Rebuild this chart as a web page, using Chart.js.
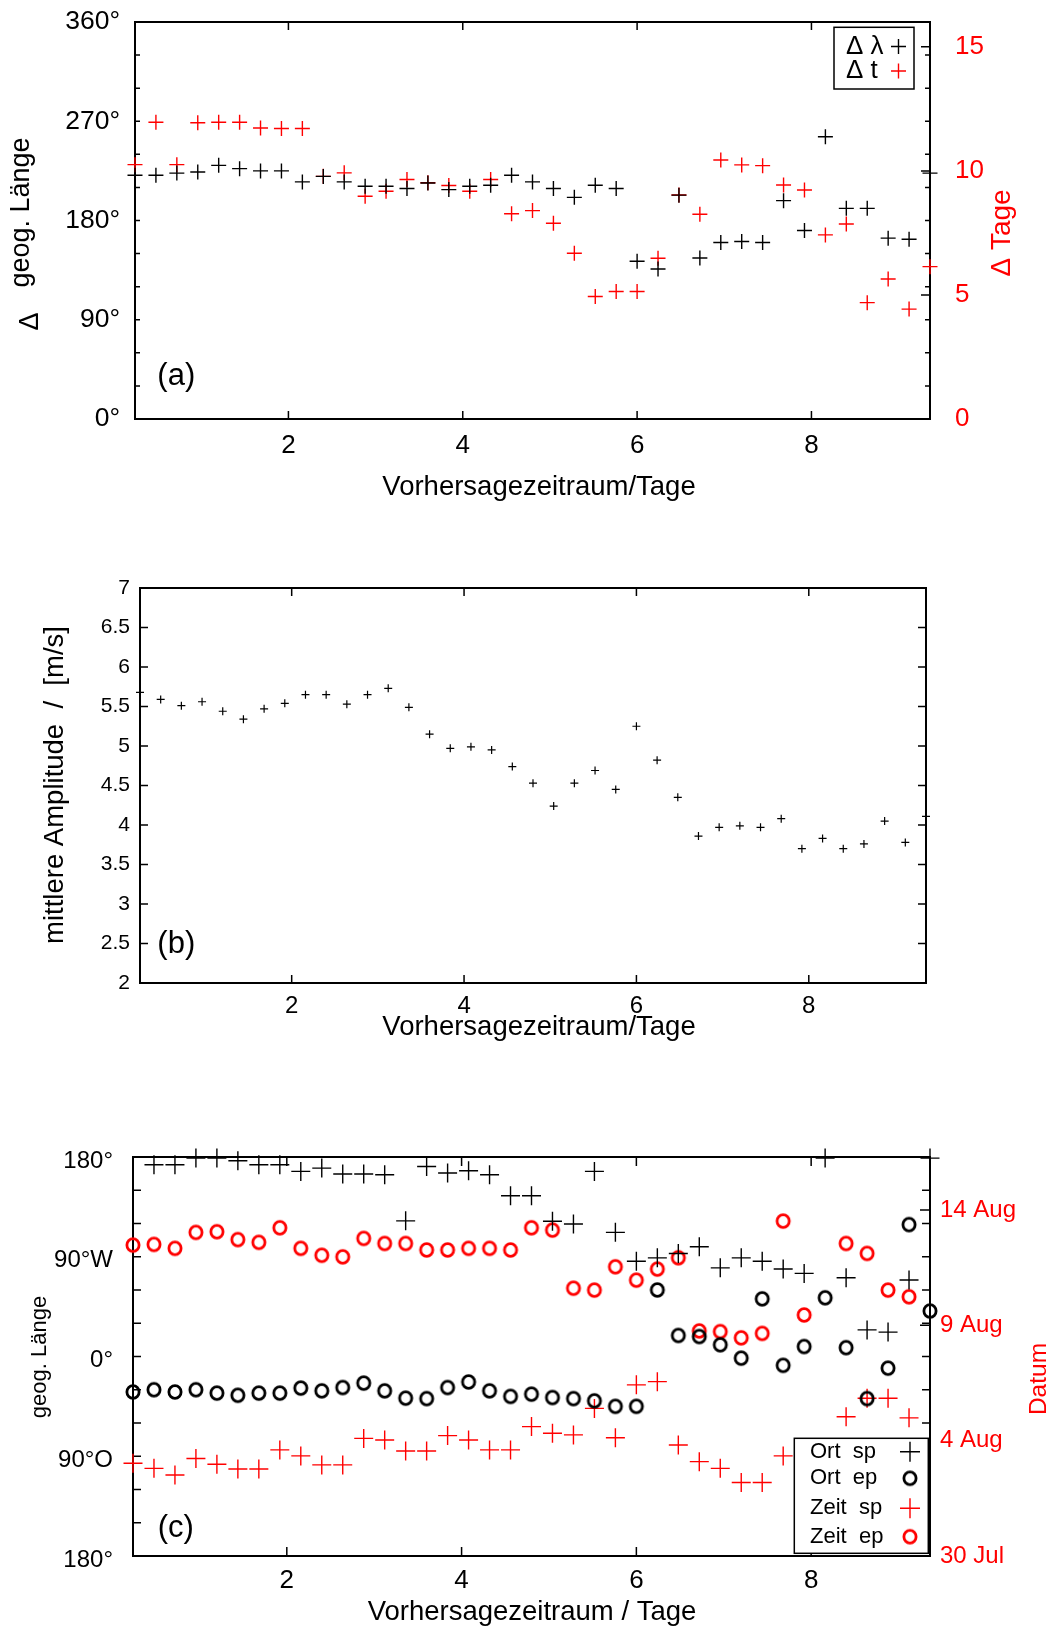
<!DOCTYPE html>
<html>
<head>
<meta charset="utf-8">
<script src="https://cdn.jsdelivr.net/npm/chart.js@4.4.1/dist/chart.umd.min.js"></script>
<style>
  html, body { margin: 0; padding: 0; background: #fff; }
  body { width: 1055px; height: 1629px; position: relative; overflow: hidden; }
  canvas { position: absolute; left: 0; }
</style>
</head>
<body>
<canvas id="pa" width="1055" height="515" style="top:0px"></canvas>
<canvas id="pb" width="1055" height="520" style="top:530px"></canvas>
<canvas id="pc" width="1055" height="529" style="top:1100px"></canvas>
<script>
const FONT = '"Liberation Sans", Arial, Helvetica, sans-serif';
const RED = '#ff0000';
const BLACK = '#000000';

// lead time of the 39 forecasts (days)
const days = [0.24, 0.48, 0.72, 0.96, 1.20, 1.44, 1.68, 1.92, 2.16, 2.40,
  2.64, 2.88, 3.12, 3.36, 3.60, 3.84, 4.08, 4.32, 4.56, 4.80,
  5.04, 5.28, 5.52, 5.76, 6.00, 6.24, 6.48, 6.72, 6.96, 7.20,
  7.44, 7.68, 7.92, 8.16, 8.40, 8.64, 8.88, 9.12, 9.36];
const xTicks = [2, 4, 6, 8];

// (a) error in longitude (deg) and in time (days)
const dLambda = [221, 221, 223, 224, 230, 227, 225, 225, 215, 220,
  215, 211, 211, 209, 214, 208, 211, 212, 221, 215,
  209, 201, 212, 209, 143, 136, 203, 146, 160, 161,
  160, 198, 171, 256, 191, 191, 164, 163, 223];
const dT = [10.25, 11.96, 10.25, 11.94, 11.96, 11.96, 11.73, 11.71, 11.71, 9.78,
  9.92, 8.98, 9.18, 9.65, 9.52, 9.41, 9.18, 9.65, 8.27, 8.40,
  7.89, 6.68, 4.94, 5.14, 5.14, 6.48, 9.03, 8.25, 10.44, 10.24,
  10.21, 9.43, 9.23, 7.42, 7.86, 4.69, 5.64, 4.43, 6.14];
const tageTicks = [0, 5, 10, 15];

// (b) mean amplitude (m/s)
const amplitude = [5.68, 5.59, 5.51, 5.56, 5.44, 5.34, 5.47, 5.54, 5.65, 5.65,
  5.53, 5.65, 5.73, 5.49, 5.15, 4.97, 4.99, 4.95, 4.74, 4.53,
  4.24, 4.53, 4.69, 4.45, 5.25, 4.82, 4.35, 3.86, 3.97, 3.99,
  3.97, 4.08, 3.70, 3.83, 3.70, 3.76, 4.05, 3.78, 4.11];

// (c) longitude (deg, west positive) and date (days after 30 Jul)
const ortSp = [null, 173, 173, 179, 179, 176.6, 173, 173, 167, 170,
  164.6, 164.6, 164, 122.4, 171.4, 165.5, 167.6, 164, 145, 145,
  122, 119.5, 167, 112, 86, 89, 93, 99, 80, 89,
  86, 79, 75, 179, 71, 24, 22, 69, 179];
const ortEp = [-32, -30, -32, -30, -33, -35, -33, -33, -28.5, -31,
  -28, -24, -31, -37.6, -38, -28, -23, -31, -36, -34,
  -37, -38, -40, -45, -45, 60, 19, 18, 10.6, -1.5,
  52, -8, 9, 53, 8, -38, -10.5, 119, 41];
const zeitSp = [4.02, 3.80, 3.51, 4.23, 3.98, 3.77, 3.77, 4.60, 4.34, 3.95,
  3.95, 5.10, 5.03, 4.55, 4.55, 5.22, 5.03, 4.60, 4.60, 5.61,
  5.32, 5.25, 6.40, 5.13, 7.42, 7.56, 4.81, 4.09, 3.80, 3.19,
  3.19, 4.34, null, null, 6.04, 6.84, 6.84, 5.99, null];
const zeitEp = [13.48, 13.51, 13.34, 14.03, 14.06, 13.72, 13.60, 14.23, 13.34, 13.04,
  12.97, 13.77, 13.55, 13.55, 13.27, 13.27, 13.34, 13.34, 13.27, 14.23,
  14.13, 11.61, 11.53, 12.54, 11.96, 12.44, 12.93, 9.76, 9.73, 9.46,
  9.65, 14.52, 10.45, null, 13.55, 13.12, 11.53, 11.24, null];
const lonTicks = [-180, -90, 0, 90, 180];
const lonLabels = ['180°', '90°O', '0°', '90°W', '180°'];
const dateTicks = [0, 5, 10, 15];
const dateLabels = ['30 Jul', '4 Aug', '9 Aug', '14 Aug'];

function pts(vals) {
  return days.map((d, i) => vals[i] == null ? null : { x: d, y: vals[i] }).filter(p => p);
}

// gnuplot-like "o" marker
function ring(color) {
  const c = document.createElement('canvas');
  c.width = 18; c.height = 20;
  const g = c.getContext('2d');
  g.strokeStyle = color;
  g.lineWidth = 2.8;
  g.beginPath();
  g.ellipse(9, 10, 6.1, 6.3, 0, 0, Math.PI * 2);
  g.stroke();
  return c;
}

function marker(ctx, style, r, x, y) {
  if (style instanceof HTMLCanvasElement) {
    ctx.drawImage(style, x - style.width / 2, y - style.height / 2);
    return;
  }
  ctx.beginPath();
  ctx.moveTo(x - r, y); ctx.lineTo(x + r, y);
  ctx.moveTo(x, y - r); ctx.lineTo(x, y + r);
  ctx.stroke();
}

// box, inward ticks on all sides, free texts (axis titles, panel letters)
function framePlugin(cfg) {
  return {
    id: 'frame',
    beforeDatasetsDraw(chart) {
      const { ctx, chartArea: a, scales } = chart;
      ctx.save();
      ctx.strokeStyle = BLACK;
      ctx.lineWidth = 1.5;
      ctx.beginPath();
      scales.x.ticks.forEach(t => {
        const p = scales.x.getPixelForValue(t.value);
        ctx.moveTo(p, a.bottom); ctx.lineTo(p, a.bottom - cfg.xLen);
        ctx.moveTo(p, a.top); ctx.lineTo(p, a.top + cfg.xLen);
      });
      scales.y.ticks.forEach(t => {
        const p = scales.y.getPixelForValue(t.value);
        ctx.moveTo(a.left, p); ctx.lineTo(a.left + cfg.yLen, p);
        ctx.moveTo(a.right, p); ctx.lineTo(a.right - cfg.yLen, p);
      });
      if (scales.y2) {
        scales.y2.ticks.forEach(t => {
          const p = scales.y2.getPixelForValue(t.value);
          ctx.moveTo(a.right, p); ctx.lineTo(a.right - cfg.y2Len, p);
        });
      }
      ctx.stroke();
      ctx.lineWidth = 2;
      ctx.strokeRect(a.left, a.top, a.right - a.left, a.bottom - a.top);
      ctx.textAlign = 'center';
      ctx.textBaseline = 'middle';
      cfg.texts.forEach(t => {
        ctx.save();
        ctx.translate(t.x, t.y);
        if (t.rot) ctx.rotate(-Math.PI / 2);
        ctx.font = t.size + 'px ' + FONT;
        ctx.fillStyle = t.color || BLACK;
        ctx.fillText(t.text, 0, 0);
        ctx.restore();
      });
      ctx.restore();
    }
  };
}

// boxed key with the text first and the symbol after it
function keyPlugin(cfg) {
  return {
    id: 'key',
    afterDatasetsDraw(chart) {
      const { ctx } = chart;
      const [x1, y1, x2, y2] = cfg.box;
      ctx.save();
      ctx.fillStyle = '#fff';
      ctx.fillRect(x1, y1, x2 - x1, y2 - y1);
      ctx.strokeStyle = BLACK;
      ctx.lineWidth = 1.5;
      ctx.strokeRect(x1, y1, x2 - x1, y2 - y1);
      ctx.font = cfg.size + 'px ' + FONT;
      ctx.textAlign = 'left';
      ctx.textBaseline = 'middle';
      chart.data.datasets.forEach((ds, i) => {
        const y = cfg.rows[i];
        ctx.fillStyle = BLACK;
        ctx.fillText(ds.label, cfg.textX, y);
        ctx.strokeStyle = ds.pointBorderColor;
        ctx.lineWidth = ds.pointBorderWidth;
        marker(ctx, ds.pointStyle, cfg.markerR, cfg.markerX, y);
      });
      ctx.restore();
    }
  };
}

// pin an axis to a fixed thickness and stop it from padding the chart area
function pin(size) {
  return s => {
    if (s.isHorizontal()) s.height = size; else s.width = size;
    s.paddingTop = 0; s.paddingBottom = 0; s.paddingLeft = 0; s.paddingRight = 0;
  };
}

const noGrid = { display: false, drawTicks: false };

function xScale(L, size, pad) {
  return {
    type: 'linear', position: 'bottom',
    min: days[0], max: days[days.length - 1],
    afterBuildTicks: s => { s.ticks = xTicks.map(v => ({ value: v })); },
    afterFit: pin(L.H - L.bottom),
    grid: noGrid, border: { display: false },
    ticks: { color: BLACK, font: { family: FONT, size: size }, padding: pad, maxRotation: 0, autoSkip: false }
  };
}

function series(label, vals, axis, style, r, color, bw) {
  return {
    label: label, data: pts(vals), yAxisID: axis,
    pointStyle: style, pointRadius: r, pointHoverRadius: r,
    pointBorderColor: color, pointBackgroundColor: 'rgba(0,0,0,0)',
    pointBorderWidth: bw, borderColor: color, showLine: false, clip: false
  };
}

const base = { responsive: false, animation: false, devicePixelRatio: 1, events: [] };
const noPlug = { legend: { display: false }, tooltip: { enabled: false } };

// ---------- (a) ----------
const LA = { H: 515, W: 1055, left: 135, right: 930, top: 22, bottom: 419 };
new Chart(document.getElementById('pa'), {
  type: 'scatter',
  data: {
    datasets: [
      series('Δ λ', dLambda, 'y', 'cross', 7.5, BLACK, 1.4),
      series('Δ t', dT, 'y2', 'cross', 7.5, RED, 1.4)
    ]
  },
  options: Object.assign({}, base, {
    layout: { padding: { top: LA.top, left: 0, right: 0, bottom: 0 } },
    plugins: noPlug,
    scales: {
      x: xScale(LA, 26, 11),
      y: {
        type: 'linear', position: 'left', min: 0, max: 360,
        afterFit: pin(LA.left),
        grid: noGrid, border: { display: false },
        ticks: {
          stepSize: 30, autoSkip: false, padding: 15, color: BLACK,
          font: { family: FONT, size: 26.5 },
          callback: v => v % 90 === 0 ? v + '°' : ''
        }
      },
      y2: {
        type: 'linear', position: 'right', min: 0, max: 16,
        afterBuildTicks: s => { s.ticks = tageTicks.map(v => ({ value: v })); },
        afterFit: pin(LA.W - LA.right),
        grid: noGrid, border: { display: false },
        ticks: { autoSkip: false, padding: 25, color: RED, font: { family: FONT, size: 26 } }
      }
    }
  }),
  plugins: [
    framePlugin({
      xLen: 8, yLen: 5, y2Len: 9,
      texts: [
        { text: 'Δ', x: 31, y: 321.5, rot: true, size: 27 },
        { text: 'geog. Länge', x: 22, y: 212.5, rot: true, size: 27 },
        { text: 'Δ Tage', x: 1002, y: 233, rot: true, size: 28, color: RED },
        { text: 'Vorhersagezeitraum/Tage', x: 539, y: 487, size: 27.5 },
        { text: '(a)', x: 176.3, y: 376, size: 31 }
      ]
    }),
    keyPlugin({ box: [834, 27.3, 914, 89], textX: 846, markerX: 898.5, rows: [46.5, 71], size: 26, markerR: 7.5 })
  ]
});

// ---------- (b) ----------
const LB = { H: 520, W: 1055, left: 140, right: 926, top: 58, bottom: 453 };
new Chart(document.getElementById('pb'), {
  type: 'scatter',
  data: { datasets: [series('Amplitude', amplitude, 'y', 'cross', 4, BLACK, 1.2)] },
  options: Object.assign({}, base, {
    layout: { padding: { top: LB.top, left: 0, right: LB.W - LB.right, bottom: 0 } },
    plugins: noPlug,
    scales: {
      x: xScale(LB, 24, 9),
      y: {
        type: 'linear', position: 'left', min: 2, max: 7,
        afterFit: pin(LB.left),
        grid: noGrid, border: { display: false },
        ticks: {
          stepSize: 0.5, autoSkip: false, padding: 10, color: BLACK,
          font: { family: FONT, size: 21 }, callback: v => String(v)
        }
      }
    }
  }),
  plugins: [
    framePlugin({
      xLen: 8, yLen: 8, y2Len: 0,
      texts: [
        { text: 'mittlere Amplitude  /  [m/s]', x: 55.6, y: 255, rot: true, size: 27.5 },
        { text: 'Vorhersagezeitraum/Tage', x: 539, y: 497, size: 27.5 },
        { text: '(b)', x: 176.3, y: 414.5, size: 31 }
      ]
    })
  ]
});

// ---------- (c) ----------
const LC = { H: 529, W: 1055, left: 133, right: 930, top: 57, bottom: 456 };
new Chart(document.getElementById('pc'), {
  type: 'scatter',
  data: {
    datasets: [
      series('Ort  sp', ortSp, 'y', 'cross', 9.5, BLACK, 1.4),
      series('Ort  ep', ortEp, 'y', ring(BLACK), 6, BLACK, 2.8),
      series('Zeit  sp', zeitSp, 'y2', 'cross', 9.5, RED, 1.4),
      series('Zeit  ep', zeitEp, 'y2', ring(RED), 6, RED, 2.8)
    ]
  },
  options: Object.assign({}, base, {
    layout: { padding: { top: LC.top, left: 0, right: 0, bottom: 0 } },
    plugins: noPlug,
    scales: {
      x: xScale(LC, 26, 9),
      y: {
        type: 'linear', position: 'left', min: -180, max: 180,
        afterFit: pin(LC.left),
        grid: noGrid, border: { display: false },
        ticks: {
          stepSize: 30, autoSkip: false, padding: 20, labelOffset: 4, color: BLACK,
          font: { family: FONT, size: 24 },
          callback: v => { const i = lonTicks.indexOf(v); return i < 0 ? '' : lonLabels[i]; }
        }
      },
      y2: {
        type: 'linear', position: 'right', min: 0, max: 17.3,
        afterBuildTicks: s => { s.ticks = dateTicks.map(v => ({ value: v })); },
        afterFit: pin(LC.W - LC.right),
        grid: noGrid, border: { display: false },
        ticks: {
          autoSkip: false, padding: 10, color: RED, font: { family: FONT, size: 24 },
          callback: v => dateLabels[dateTicks.indexOf(v)]
        }
      }
    }
  }),
  plugins: [
    framePlugin({
      xLen: 9, yLen: 8, y2Len: 10,
      texts: [
        { text: 'geog. Länge', x: 40, y: 257, rot: true, size: 22 },
        { text: 'Datum', x: 1039, y: 279, rot: true, size: 24.5, color: RED },
        { text: 'Vorhersagezeitraum / Tage', x: 532, y: 512.5, size: 27.5 },
        { text: '(c)', x: 175.8, y: 428, size: 31 }
      ]
    }),
    keyPlugin({ box: [794.3, 338.3, 928.3, 453.3], textX: 810, markerX: 910, rows: [351.7, 378.3, 408.3, 436.7], size: 22, markerR: 10 })
  ]
});
</script>
</body>
</html>
